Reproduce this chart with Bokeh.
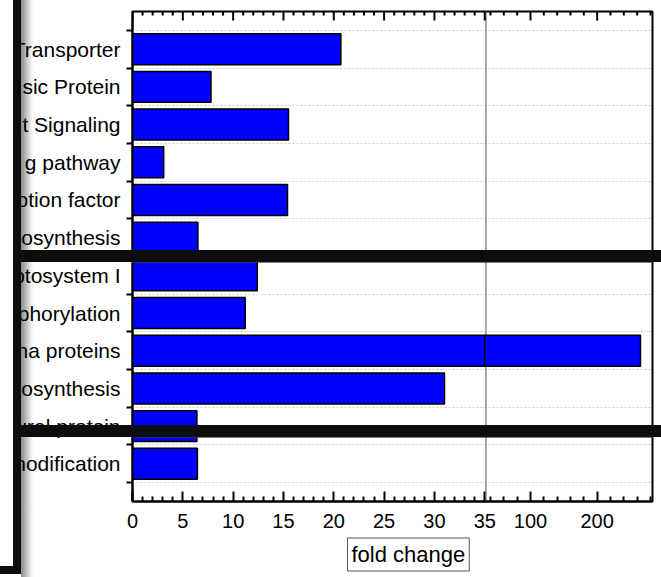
from bokeh.plotting import figure
from bokeh.models import (Range1d, FixedTicker, LinearAxis, Span, BoxAnnotation, Title,
                          InlineStyleSheet)
from bokeh.embed import file_html
from bokeh.resources import INLINE

# ---- data (top to bottom, as visible in the picture) ----
categories = ["Transporter", "sic Protein", "t Signaling", "g pathway", "otion factor",
              "osynthesis", "otosystem I", "phorylation", "na proteins", "osynthesis",
              "ural protein", "nodification"]
fold_change = [20.7, 7.8, 15.5, 3.1, 15.4, 6.5, 12.4, 11.2, 265, 31.0, 6.4, 6.45]

lower_major = [0, 5, 10, 15, 20, 25, 30, 35]
upper_major = [100, 200]
upper_minor = [40, 60, 80, 120, 140, 160, 180, 220, 240, 260, 280]
axis_title = "fold change"

# broken axis: 0-35 linear, 35-283 compressed
BREAK = 35.0
GAP = 0.24
UPPER_SCALE = 0.06624
UPPER_MAX = 283


def brk(v):
    return v if v <= BREAK else BREAK + GAP + (v - BREAK) * UPPER_SCALE


n = len(categories)
ys = [n - 1 - i for i in range(n)]  # top row has largest y

FONT = "Liberation Sans"
FRAME_H = 490
ROW_PX = FRAME_H / (n + 1)

p = figure(width=661, height=577, output_backend="svg", toolbar_location=None,
           x_range=Range1d(0, brk(UPPER_MAX)), y_range=Range1d(-1, n),
           min_border_left=132, min_border_right=9, min_border_top=11, min_border_bottom=76,
           x_axis_location=None, y_axis_location=None)
p.background_fill_color = "white"
p.border_fill_color = "white"
p.outline_line_color = "black"
p.outline_line_width = 2

# break line under bars
p.add_layout(Span(location=BREAK + GAP / 2, dimension="height", line_color="#555555",
                  line_width=1, level="underlay"))

# bars (lower piece, and upper piece past the break)
low_y, low_l, low_r, up_y, up_l, up_r = [], [], [], [], [], []
for y, v in zip(ys, fold_change):
    low_y.append(y); low_l.append(0); low_r.append(min(v, BREAK))
    if v > BREAK:
        up_y.append(y); up_l.append(brk(BREAK)); up_r.append(brk(v))
p.hbar(y=low_y, left=low_l, right=low_r, height=0.82, fill_color="#0000FF",
       line_color="black", line_width=1.5)
p.hbar(y=up_y, left=up_l, right=up_r, height=0.82, fill_color="#0000FF",
       line_color="black", line_width=1.5)

# x ticks
major_pos = [float(v) for v in lower_major] + [round(brk(v), 5) for v in upper_major]
minor_pos = [float(v) for v in range(0, 36) if v not in lower_major] + [round(brk(v), 5) for v in upper_minor]
labels = {pos: str(v) for pos, v in zip(major_pos, lower_major + upper_major)}

xb = LinearAxis(ticker=FixedTicker(ticks=major_pos, minor_ticks=minor_pos))
xb.major_label_overrides = labels
xb.major_tick_in = 10; xb.major_tick_out = 0
xb.minor_tick_in = 5; xb.minor_tick_out = 0
xb.major_tick_line_width = 2; xb.minor_tick_line_width = 2
xb.major_tick_line_color = "black"; xb.minor_tick_line_color = "black"
xb.axis_line_width = 2
xb.major_label_text_font = FONT
xb.major_label_text_font_size = "20px"
xb.major_label_text_color = "black"
xb.major_label_standoff = 12
p.add_layout(xb, "below")

# mirrored inward ticks along the top edge
p.segment(x0=major_pos, x1=major_pos, y0=[n] * len(major_pos),
          y1=[n - 9 / ROW_PX] * len(major_pos), line_color="black", line_width=2)
p.segment(x0=minor_pos, x1=minor_pos, y0=[n] * len(minor_pos),
          y1=[n - 4 / ROW_PX] * len(minor_pos), line_color="black", line_width=2)

# y axis: labels at row centres, ticks at row boundaries
bounds = [y - 0.5 for y in ys] + [n - 0.5]
ya = LinearAxis(ticker=FixedTicker(ticks=ys, minor_ticks=bounds))
ya.major_label_overrides = {y: c for y, c in zip(ys, categories)}
ya.major_tick_in = 0; ya.major_tick_out = 0
ya.minor_tick_in = 0; ya.minor_tick_out = 6
ya.minor_tick_line_width = 2
ya.axis_line_width = 2
ya.major_label_text_font = FONT
ya.major_label_text_font_size = "21px"
ya.major_label_text_color = "black"
ya.major_label_standoff = 6
p.add_layout(ya, "left")

p.xgrid.visible = False
p.ygrid.ticker = FixedTicker(ticks=bounds)
p.ygrid.grid_line_color = "#cccccc"
p.ygrid.grid_line_dash = "2 2"
p.ygrid.grid_line_width = 1

# boxed axis title
p.add_layout(Title(text=axis_title, align="left", offset=215, standoff=11,
                   text_font=FONT, text_font_size="22px", text_font_style="normal",
                   text_color="black", border_line_color="#555555", border_line_width=1,
                   background_fill_color="white", padding=4), "below")

# black strokes across the picture (inside the frame)
for (t, b) in [(250, 262), (425, 437)]:
    p.add_layout(BoxAnnotation(left=0, right=661, top=t, bottom=b,
                               left_units="canvas", right_units="canvas",
                               top_units="canvas", bottom_units="canvas",
                               fill_color="#0d0d0d", fill_alpha=1.0,
                               line_color="#777777", line_width=1))

# the same strokes where they run outside the frame, plus the left frame corner
p.stylesheets = [InlineStyleSheet(css="""
:host { position: relative; }
:host::after {
  content: "";
  position: absolute; left: 0; top: 0; width: 661px; height: 577px;
  pointer-events: none; z-index: 10;
  background:
    linear-gradient(#0d0d0d, #0d0d0d) 13px 0px / 8px 574px no-repeat,
    linear-gradient(#0d0d0d, #0d0d0d) 0px 566px / 21px 8px no-repeat,
    linear-gradient(#0d0d0d, #0d0d0d) 21px 250px / 640px 12px no-repeat,
    linear-gradient(#0d0d0d, #0d0d0d) 21px 425px / 640px 12px no-repeat,
    linear-gradient(to right, rgba(0,0,0,0.45), rgba(0,0,0,0)) 21px 0px / 12px 577px no-repeat;
}
""")]

open("out.html", "w").write(file_html(p, INLINE))
